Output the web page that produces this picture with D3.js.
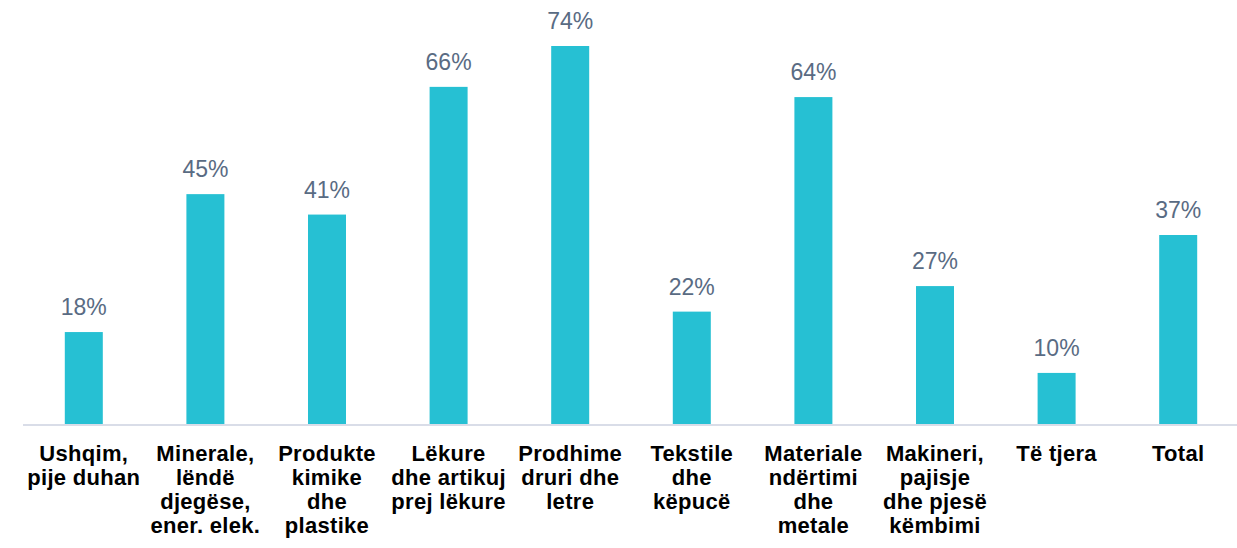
<!DOCTYPE html>
<html>
<head>
<meta charset="utf-8">
<script src="https://cdn.jsdelivr.net/npm/d3@7"></script>
<style>
  body { margin: 0; background: #fff; }
  text { font-family: Arial, "Liberation Sans", sans-serif; }
</style>
</head>
<body>
<div id="chart"></div>
<script>
// data
var categories = [
  ["Ushqim,", "pije duhan"],
  ["Minerale,", "lëndë", "djegëse,", "ener. elek."],
  ["Produkte", "kimike", "dhe", "plastike"],
  ["Lëkure", "dhe artikuj", "prej lëkure"],
  ["Prodhime", "druri dhe", "letre"],
  ["Tekstile", "dhe", "këpucë"],
  ["Materiale", "ndërtimi", "dhe", "metale"],
  ["Makineri,", "pajisje", "dhe pjesë", "këmbimi"],
  ["Të tjera"],
  ["Total"]
];
var values = [18, 45, 41, 66, 74, 22, 64, 27, 10, 37];

var W = 1237, H = 548;
var baseY = 424;

var svg = d3.select('#chart').append('svg')
    .attr('width', W)
    .attr('height', H);

var idx = d3.range(values.length);

var x = d3.scaleBand()
    .domain(idx)
    .range([23, 1239])
    .paddingInner(0.6875)
    .paddingOuter(0.34375);

var y = d3.scaleLinear()
    .domain([0, 74])
    .range([baseY, 46]);

// bars
svg.selectAll('.bar')
    .data(idx)
    .enter()
    .append('rect')
    .attr('class', 'bar')
    .attr('x', d => x(d))
    .attr('y', d => y(values[d]))
    .attr('width', x.bandwidth())
    .attr('height', d => baseY - y(values[d]))
    .attr('fill', '#26c0d3');

// value labels
svg.selectAll('.val')
    .data(idx)
    .enter()
    .append('text')
    .attr('class', 'val')
    .attr('x', d => x(d) + x.bandwidth() / 2)
    .attr('y', d => y(values[d]) - 17)
    .attr('text-anchor', 'middle')
    .attr('font-size', '23px')
    .attr('fill', '#596b83')
    .text(d => values[d] + '%');

// x axis line
svg.append('line')
    .attr('x1', 23)
    .attr('x2', W)
    .attr('y1', baseY + 1)
    .attr('y2', baseY + 1)
    .attr('stroke', '#d9dde8')
    .attr('stroke-width', 2);

// category labels
var cat = svg.selectAll('.cat')
    .data(idx)
    .enter()
    .append('text')
    .attr('class', 'cat')
    .attr('text-anchor', 'middle')
    .attr('font-size', '22px')
    .attr('font-weight', 'bold')
    .attr('letter-spacing', '0.3px')
    .attr('fill', '#000');

cat.selectAll('tspan')
    .data(d => categories[d].map(t => ({ t: t, c: x(d) + x.bandwidth() / 2 })))
    .enter()
    .append('tspan')
    .attr('x', d => d.c)
    .attr('y', (d, i) => 461 + i * 24)
    .text(d => d.t);
</script>
</body>
</html>
